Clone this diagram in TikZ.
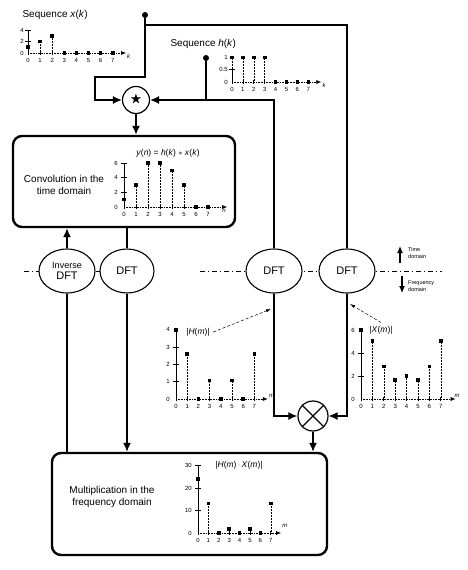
\documentclass[tikz,border=0pt]{standalone}
\usepackage{fontspec}
\setmainfont{Liberation Sans}
\usepackage{amssymb}
\usetikzlibrary{arrows.meta,shapes.geometric,positioning}
\newcommand{\itv}[1]{\textit{#1}}
\tikzset{
  conn/.style     = {line width=1.4pt},
  block/.style    = {draw, line width=2.4pt, rounded corners=9pt, rectangle},
  xform/.style    = {draw, ellipse, line width=1.1pt, fill=white, inner sep=0pt,
                     minimum width=56pt, minimum height=44pt, align=center,
                     font=\fontsize{11}{11}\selectfont},
  junction/.style = {draw, circle, line width=1.2pt, fill=white, inner sep=0pt},
  src/.style      = {circle, fill, inner sep=0pt, minimum size=6pt},
  lbl/.style      = {font=\fontsize{10}{12}\selectfont, align=center},
  ptitle/.style   = {font=\fontsize{8.5}{10}\selectfont},
  ticklbl/.style  = {font=\fontsize{6}{7}\selectfont, inner sep=1pt},
  legend/.style   = {font=\fontsize{5.5}{6.5}\selectfont, align=left, inner sep=0pt},
  stem/.style     = {densely dotted, line width=0.5pt},
  sample/.style   = {fill, rectangle, minimum size=3.6pt, inner sep=0pt},
  haxis/.style    = {densely dotted, line width=0.6pt, -{Latex[length=5pt,width=4pt]}},
  vaxis/.style    = {line width=0.8pt},
  divider/.style  = {dash pattern=on 5pt off 3pt on 1pt off 3pt, line width=0.5pt},
  pointer/.style  = {densely dashed, line width=0.5pt, -{Latex[length=5pt,width=3pt]}}
}

\begin{document}
\begin{tikzpicture}[x=1pt, y=-1pt, >={Latex[length=9pt,width=8pt]}]
\useasboundingbox (0,0) rectangle (468,570);

% time / frequency divider
\coordinate (d1) at (24,271);
\coordinate (d2) at (154,271);
\coordinate (d3) at (200,271);
\coordinate (d4) at (442,271);
\draw[divider] (d1) -- (d2);
\draw[divider] (d3) -- (d4);

% blocks
\node[block, minimum width=222pt, minimum height=91pt] (conv) at (124,181.5) {};
\node[block, minimum width=275pt, minimum height=102pt] (mult) at (189.5,504) {};
\node[lbl] (convtxt) at (64,185) {Convolution in the\\time domain};
\node[lbl] (multtxt) at (112,497) {Multiplication in the\\frequency domain};

% transforms
\node[xform] (idft) at (67,271) {{\fontsize{9}{9}\selectfont Inverse}\\DFT};
\node[xform, minimum width=54pt] (dft2) at (127,271) {DFT};
\node[xform] (dft3) at (274,271) {DFT};
\node[xform] (dft4) at (347,271) {DFT};

% convolution and multiplication
\node[junction, minimum size=27pt] (star) at (136,100) {\large$\bigstar$};
\node[junction, minimum size=30pt] (times) at (313,416) {};
\draw[line width=1.2pt] (times.north west) -- (times.south east)
                        (times.north east) -- (times.south west);

% input sequences
\node[src] (xsrc) at (145,15) {};
\node[src] (hsrc) at (206,58) {};
\node[lbl, anchor=west] (xname) at (19,15) {Sequence \itv{x}(\itv{k})};
\node[lbl, anchor=west] (hname) at (167,44) {Sequence \itv{h}(\itv{k})};
\coordinate (xbend) at (95,77);
\coordinate (xtop) at (145,25);

% connectors
\draw[conn,->] (xsrc) |- (xbend) |- (star.west);
\draw[conn] (xtop) -| (dft4.north);
\draw[conn,->] (hsrc) |- (star.east);
\draw[conn] (hsrc |- star.east) -| (dft3.north);
\draw[conn,->] (star.south) -- (star.south |- conv.north);
\draw[conn] (conv.south -| dft2) -- (dft2.north);
\draw[conn,->] (idft.north) -- (idft.north |- conv.south);
\draw[conn] (mult.north -| idft) -- (idft.south);
\draw[conn,->] (dft2.south) -- (dft2.south |- mult.north);
\draw[conn,->] (dft3.south) |- (times.west);
\draw[conn,->] (dft4.south) |- (times.east);
\draw[conn,->] (times.south) -- (times.south |- mult.north);

% legend
\coordinate (tup1) at (400,263);
\coordinate (tup2) at (400,246);
\coordinate (fdn1) at (402,276);
\coordinate (fdn2) at (402,293);
\draw[line width=1.1pt, -{Latex[length=7pt,width=6pt]}] (tup1) -- (tup2);
\draw[line width=1.1pt, -{Latex[length=7pt,width=6pt]}] (fdn1) -- (fdn2);
\node[legend, anchor=west] (tdom) at (408,253) {Time\\domain};
\node[legend, anchor=west] (fdom) at (408,286) {Frequency\\domain};

% sequence x(k)
\begin{scope}[shift={(28,53)}, x=12.1pt, y=5.75pt]
  \draw[haxis] (0,0) -- (8.1,0);
  \node[ticklbl, below right] (xk-var) at (8.1,0) {\itv{k}};
  \draw[vaxis] (0,0) -- (0,4);
  \foreach \t in {2,4}
    \draw[vaxis] (0,\t) +(-3pt,0) -- +(3pt,0);
  \foreach \t in {0,2,4}
    \node[ticklbl, left=3pt] (xk-t\t) at (0,\t) {\t};
  \foreach \k/\v in {0/1,1/2,2/3,3/0,4/0,5/0,6/0,7/0} {
    \draw[stem] (\k,0) -- (\k,\v);
    \draw[vaxis] (\k,0) +(0,-2pt) -- +(0,2pt);
    \node[sample] (xk-s\k) at (\k,\v) {};
    \node[ticklbl, below=4pt] (xk-n\k) at (\k,0) {\k};
  }
\end{scope}

% sequence h(k)
\begin{scope}[shift={(232,82)}, x=10.9pt, y=24.5pt]
  \draw[haxis] (0,0) -- (8.2,0);
  \node[ticklbl, below right] (hk-var) at (8.2,0) {\itv{k}};
  \draw[vaxis] (0,0) -- (0,0.6);
  \draw[vaxis] (0,0.5) +(-3pt,0) -- +(3pt,0);
  \foreach \t in {0,0.5,1}
    \node[ticklbl, left=3pt] (hk-t\t) at (0,\t) {\t};
  \foreach \k/\v in {0/1,1/1,2/1,3/1,4/0,5/0,6/0,7/0} {
    \draw[stem] (\k,0) -- (\k,\v);
    \draw[vaxis] (\k,0) +(0,-2pt) -- +(0,2pt);
    \node[sample] (hk-s\k) at (\k,\v) {};
    \node[ticklbl, below=4pt] (hk-n\k) at (\k,0) {\k};
  }
\end{scope}

% convolution result y(n)
\node[ptitle] (yname) at (168,153) {\itv{y}(\itv{n}) = \itv{h}(\itv{k}) $*$ \itv{x}(\itv{k})};
\begin{scope}[shift={(124,207)}, x=12pt, y=7.33pt]
  \draw[haxis] (0,0) -- (8.6,0);
  \node[ticklbl, below right] (yn-var) at (8.1,-0.2) {\itv{n}};
  \draw[vaxis] (0,0) -- (0,6);
  \foreach \t in {2,4,6}
    \draw[vaxis] (0,\t) +(-3pt,0) -- +(3pt,0);
  \foreach \t in {0,2,4,6}
    \node[ticklbl, left=5pt] (yn-t\t) at (0,\t) {\t};
  \foreach \k/\v in {0/1,1/3,2/6,3/6,4/5,5/3,6/0,7/0} {
    \draw[stem] (\k,0) -- (\k,\v);
    \draw[vaxis] (\k,0) +(0,-2pt) -- +(0,2pt);
    \node[sample] (yn-s\k) at (\k,\v) {};
    \node[ticklbl, below=4pt] (yn-n\k) at (\k,0) {\k};
  }
\end{scope}

% magnitude |H(m)|
\node[ptitle] (hmag) at (198,332) {|\itv{H}(\itv{m})|};
\coordinate (hmagtip) at (271,309);
\draw[pointer] (hmag.east) -- (hmagtip);
\begin{scope}[shift={(176,399)}, x=11.2pt, y=17.3pt]
  \draw[haxis] (0,0) -- (8.2,0);
  \node[ticklbl, above right] (hm-var) at (8.2,0) {\itv{m}};
  \draw[vaxis] (0,0) -- (0,4);
  \foreach \t in {1,2,3}
    \draw[vaxis] (0,\t) +(-3pt,0) -- +(3pt,0);
  \foreach \t in {0,1,2,3,4}
    \node[ticklbl, left=5pt] (hm-t\t) at (0,\t) {\t};
  \foreach \k/\v in {0/4,1/2.61,2/0,3/1.08,4/0,5/1.08,6/0,7/2.61} {
    \draw[stem] (\k,0) -- (\k,\v);
    \draw[vaxis] (\k,0) +(0,-2pt) -- +(0,2pt);
    \node[sample] (hm-s\k) at (\k,\v) {};
    \node[ticklbl, below=4pt] (hm-n\k) at (\k,0) {\k};
  }
\end{scope}

% magnitude |X(m)|
\node[ptitle] (xmag) at (381,330) {|\itv{X}(\itv{m})|};
\coordinate (xmagtip) at (350,304);
\draw[pointer] (xmag.north) -- (xmagtip);
\begin{scope}[shift={(361,399)}, x=11.4pt, y=11.5pt]
  \draw[haxis] (0,0) -- (8.3,0);
  \node[ticklbl, right] (xm-var) at (8.1,0.3) {\itv{m}};
  \draw[vaxis] (0,0) -- (0,6);
  \foreach \t in {2,4}
    \draw[vaxis] (0,\t) +(-3pt,0) -- +(3pt,0);
  \foreach \t in {0,2,4,6}
    \node[ticklbl, left=5pt] (xm-t\t) at (0,\t) {\t};
  \foreach \k/\v in {0/6,1/5.03,2/2.83,3/1.64,4/2,5/1.64,6/2.83,7/5.03} {
    \draw[stem] (\k,0) -- (\k,\v);
    \draw[vaxis] (\k,0) +(0,-2pt) -- +(0,2pt);
    \node[sample] (xm-s\k) at (\k,\v) {};
    \node[ticklbl, below=4pt] (xm-n\k) at (\k,0) {\k};
  }
\end{scope}

% product |H(m) X(m)|
\node[ptitle] (hxmag) at (239,465) {|\itv{H}(\itv{m})\,$\cdot$\,\itv{X}(\itv{m})|};
\begin{scope}[shift={(198,533)}, x=10.4pt, y=2.25pt]
  \draw[haxis] (0,0) -- (8.0,0);
  \node[ticklbl, right] (hx-var) at (8.0,3) {\itv{m}};
  \draw[vaxis] (0,0) -- (0,30);
  \foreach \t in {10,20,30}
    \draw[vaxis] (0,\t) +(-3pt,0) -- +(3pt,0);
  \foreach \t in {0,10,20,30}
    \node[ticklbl, left=5pt] (hx-t\t) at (0,\t) {\t};
  \foreach \k/\v in {0/24,1/13.1,2/0,3/1.8,4/0,5/1.8,6/0,7/13.1} {
    \draw[stem] (\k,0) -- (\k,\v);
    \draw[vaxis] (\k,0) +(0,-2pt) -- +(0,2pt);
    \node[sample] (hx-s\k) at (\k,\v) {};
    \node[ticklbl, below=4pt] (hx-n\k) at (\k,0) {\k};
  }
\end{scope}
\end{tikzpicture}
\end{document}
